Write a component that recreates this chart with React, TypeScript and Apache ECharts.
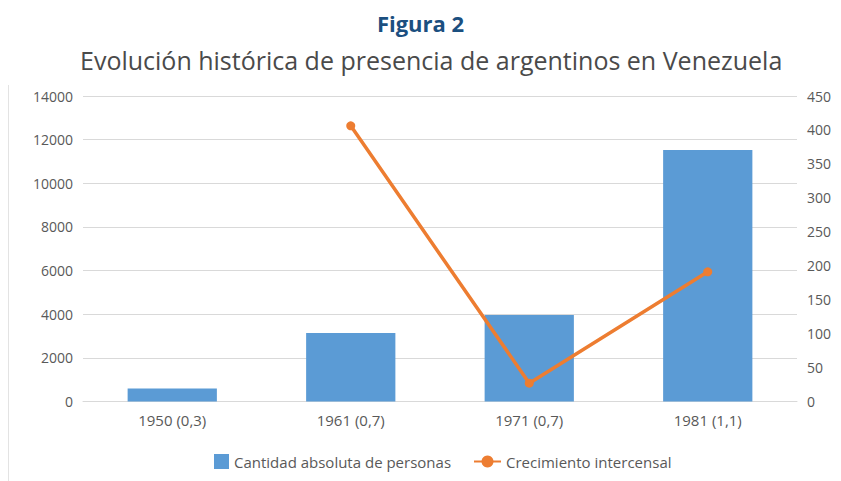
import React, { useEffect, useRef } from "react";
import * as echarts from "echarts";

const categories = ["1950 (0,3)", "1961 (0,7)", "1971 (0,7)", "1981 (1,1)"];
const cantidadPersonas = [600, 3140, 3960, 11530];
const crecimientoIntercensal: (number | null)[] = [null, 406, 27, 191];
const titleText = "Figura 2";
const subtitleText = "Evolución histórica de presencia de argentinos en Venezuela";
const barName = "Cantidad absoluta de personas";
const lineName = "Crecimiento intercensal";

export default function App() {
  const ref = useRef<HTMLDivElement>(null);
  useEffect(() => {
    if (!ref.current) return;
    const chart = echarts.init(ref.current, null, { renderer: "svg" });
    const axisLabel = { color: "#595959", fontSize: 14, fontFamily: "Open Sans" };
    const legendText = { color: "#595959", fontSize: 15, fontFamily: "Open Sans" };
    chart.setOption({
      animation: false,
      backgroundColor: "#ffffff",
      title: [
        {
          text: titleText,
          left: "center",
          top: 7,
          textStyle: { color: "#1b4f80", fontSize: 22, fontWeight: "bold", fontFamily: "Open Sans" },
        },
        {
          text: subtitleText,
          left: 75,
          top: 42,
          textStyle: { color: "#4a4a4a", fontSize: 25, fontWeight: "normal", fontFamily: "Open Sans" },
        },
      ],
      graphic: [
        { type: "line", shape: { x1: 8.5, y1: 85, x2: 8.5, y2: 481 }, style: { stroke: "#e3e3e3", lineWidth: 1 } },
      ],
      legend: [
        {
          bottom: 7,
          left: 209,
          itemWidth: 15,
          itemHeight: 15,
          textStyle: legendText,
          data: [{ name: barName, icon: "rect" }],
        },
        {
          bottom: 7,
          left: 468,
          itemWidth: 27,
          itemHeight: 15,
          textStyle: legendText,
          data: [{ name: lineName }],
        },
      ],
      grid: { left: 83, right: 44, top: 96, bottom: 79.5 },
      xAxis: {
        type: "category",
        data: categories,
        axisLine: { lineStyle: { color: "#d9d9d9" } },
        axisTick: { show: false },
        axisLabel: { ...axisLabel, fontSize: 15, margin: 11 },
      },
      yAxis: [
        {
          type: "value",
          min: 0,
          max: 14000,
          interval: 2000,
          axisLine: { show: false },
          axisTick: { show: false },
          splitLine: { lineStyle: { color: "#d9d9d9", width: 1 } },
          axisLabel: { ...axisLabel, margin: 10, formatter: (v: number) => String(v) },
        },
        {
          type: "value",
          min: 0,
          max: 450,
          interval: 50,
          axisLine: { show: false },
          axisTick: { show: false },
          splitLine: { show: false },
          axisLabel: { ...axisLabel, margin: 10, formatter: (v: number) => String(v) },
        },
      ],
      series: [
        {
          name: barName,
          type: "bar",
          data: cantidadPersonas,
          barCategoryGap: "50%",
          itemStyle: { color: "#5b9bd5" },
        },
        {
          name: lineName,
          type: "line",
          yAxisIndex: 1,
          data: crecimientoIntercensal,
          symbol: "circle",
          symbolSize: 9,
          lineStyle: { color: "#ed7d31", width: 3.5 },
          itemStyle: { color: "#ed7d31" },
        },
      ],
    });
    return () => chart.dispose();
  }, []);
  return <div ref={ref} style={{ position: "fixed", left: 0, top: 0, width: 841, height: 481 }} />;
}
